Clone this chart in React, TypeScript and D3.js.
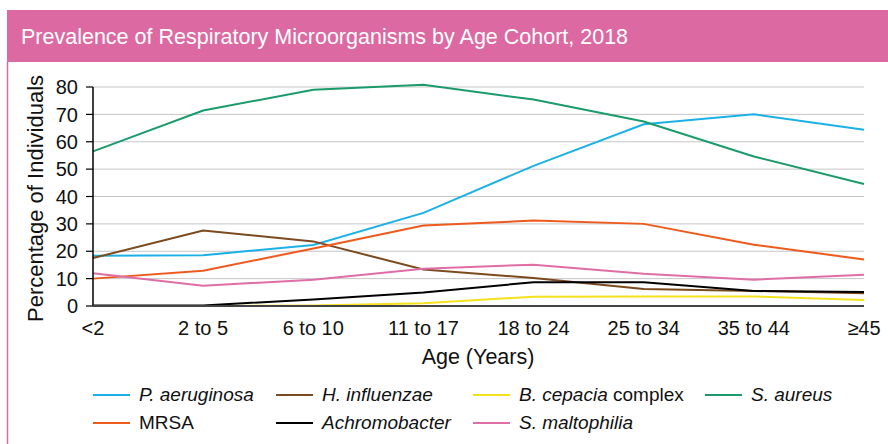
import React from 'react';
import * as d3 from 'd3';

const ageGroups = ['<2', '2 to 5', '6 to 10', '11 to 17', '18 to 24', '25 to 34', '35 to 44', '≥45'];
const yTicks = [0, 10, 20, 30, 40, 50, 60, 70, 80];

const pAeruginosa = [18.4, 18.5, 22.3, 34.0, 51.2, 66.4, 70.0, 64.4];
const hInfluenzae = [17.5, 27.6, 23.6, 13.3, 10.2, 6.2, 5.5, 4.7];
const bCepacia = [0, 0, 0.2, 1.0, 3.4, 3.5, 3.5, 2.2];
const sAureus = [56.5, 71.4, 79.0, 80.8, 75.4, 67.4, 54.6, 44.6];
const mrsa = [10.0, 12.9, 21.0, 29.4, 31.2, 30.0, 22.4, 17.0];
const achromobacter = [0.2, 0.2, 2.4, 4.9, 8.7, 8.7, 5.5, 5.1];
const sMaltophilia = [12.0, 7.4, 9.6, 13.6, 15.1, 11.8, 9.6, 11.4];

type Series = { name: string; italic: string; suffix?: string; color: string; values: number[] };

const series: Series[] = [
  { name: 'pa', italic: 'P. aeruginosa', color: '#1cb1e6', values: pAeruginosa },
  { name: 'hi', italic: 'H. influenzae', color: '#7b4a1f', values: hInfluenzae },
  { name: 'mrsa', italic: '', suffix: 'MRSA', color: '#ee5a1c', values: mrsa },
  { name: 'sm', italic: 'S. maltophilia', color: '#df6ea6', values: sMaltophilia },
  { name: 'sa', italic: 'S. aureus', color: '#1b9b6c', values: sAureus },
  { name: 'bc', italic: 'B. cepacia', suffix: ' complex', color: '#f4e01c', values: bCepacia },
  { name: 'ac', italic: 'Achromobacter', color: '#000000', values: achromobacter },
];

// legend layout: [series name, column, row]
const legendOrder: [string, number, number][] = [
  ['pa', 0, 0], ['hi', 1, 0], ['bc', 2, 0], ['sa', 3, 0],
  ['mrsa', 0, 1], ['ac', 1, 1], ['sm', 2, 1],
];
const legendCols = [93, 276, 473, 705];

const W = 888;
const H = 444;
const margin = { left: 93, right: 24, top: 87, bottom: 138 };
const font = "'Liberation Sans', Arial, Helvetica, sans-serif";

export default function App() {
  const x = d3.scalePoint<string>().domain(ageGroups).range([margin.left, W - margin.right]);
  const y = d3.scaleLinear().domain([0, 80]).range([H - margin.bottom, margin.top]);
  const line = d3.line<number>().x((_, i) => x(ageGroups[i]) as number).y(d => y(d));

  return (
    <svg width={W} height={H} style={{ position: 'absolute', left: 0, top: 0, background: '#fff' }} fontFamily={font}>
      <rect x={7} y={10} width={W - 7} height={52} fill="#dc69a1" />
      <line x1={7.5} x2={7.5} y1={62} y2={H} stroke="#dc69a1" strokeWidth={1.5} />
      <text x={21} y={44} fill="#fff" fontSize={21.5}>Prevalence of Respiratory Microorganisms by Age Cohort, 2018</text>

      {yTicks.filter(t => t > 0).map(t => (
        <line key={t} x1={margin.left} x2={W - margin.right} y1={y(t)} y2={y(t)} stroke="#c6c6c6" strokeWidth={1} />
      ))}

      {series.map(s => (
        <path key={s.name} d={line(s.values) || ''} fill="none" stroke={s.color} strokeWidth={2} />
      ))}

      <line x1={margin.left} x2={margin.left} y1={y(80)} y2={y(0)} stroke="#000" strokeWidth={1.5} />
      <line x1={margin.left} x2={W - margin.right} y1={y(0)} y2={y(0)} stroke="#444" strokeWidth={2} />
      {yTicks.map(t => (
        <g key={t}>
          <line x1={margin.left - 7} x2={margin.left} y1={y(t)} y2={y(t)} stroke="#000" strokeWidth={1.2} />
          <text x={margin.left - 15} y={y(t)} dy="0.36em" textAnchor="end" fontSize={20} fill="#111">{t}</text>
        </g>
      ))}
      {ageGroups.map(a => (
        <text key={a} x={x(a)} y={335} textAnchor="middle" fontSize={20} fill="#111">{a}</text>
      ))}

      <text transform={`translate(43,${(y(0) + y(80)) / 2 + 2}) rotate(-90)`} textAnchor="middle" fontSize={22} fill="#111">
        Percentage of Individuals
      </text>
      <text x={478} y={364} textAnchor="middle" fontSize={21.5} fill="#111">Age (Years)</text>

      {legendOrder.map(([name, col, row]) => {
        const s = series.find(d => d.name === name)!;
        const lx = legendCols[col];
        const ly = 401 + row * 28;
        return (
          <g key={name}>
            <line x1={lx} x2={lx + 37} y1={ly - 6} y2={ly - 6} stroke={s.color} strokeWidth={2} />
            <text x={lx + 46} y={ly} fontSize={19} fill="#111">
              {s.italic && <tspan fontStyle="italic">{s.italic}</tspan>}
              {s.suffix && <tspan>{s.suffix}</tspan>}
            </text>
          </g>
        );
      })}
    </svg>
  );
}
